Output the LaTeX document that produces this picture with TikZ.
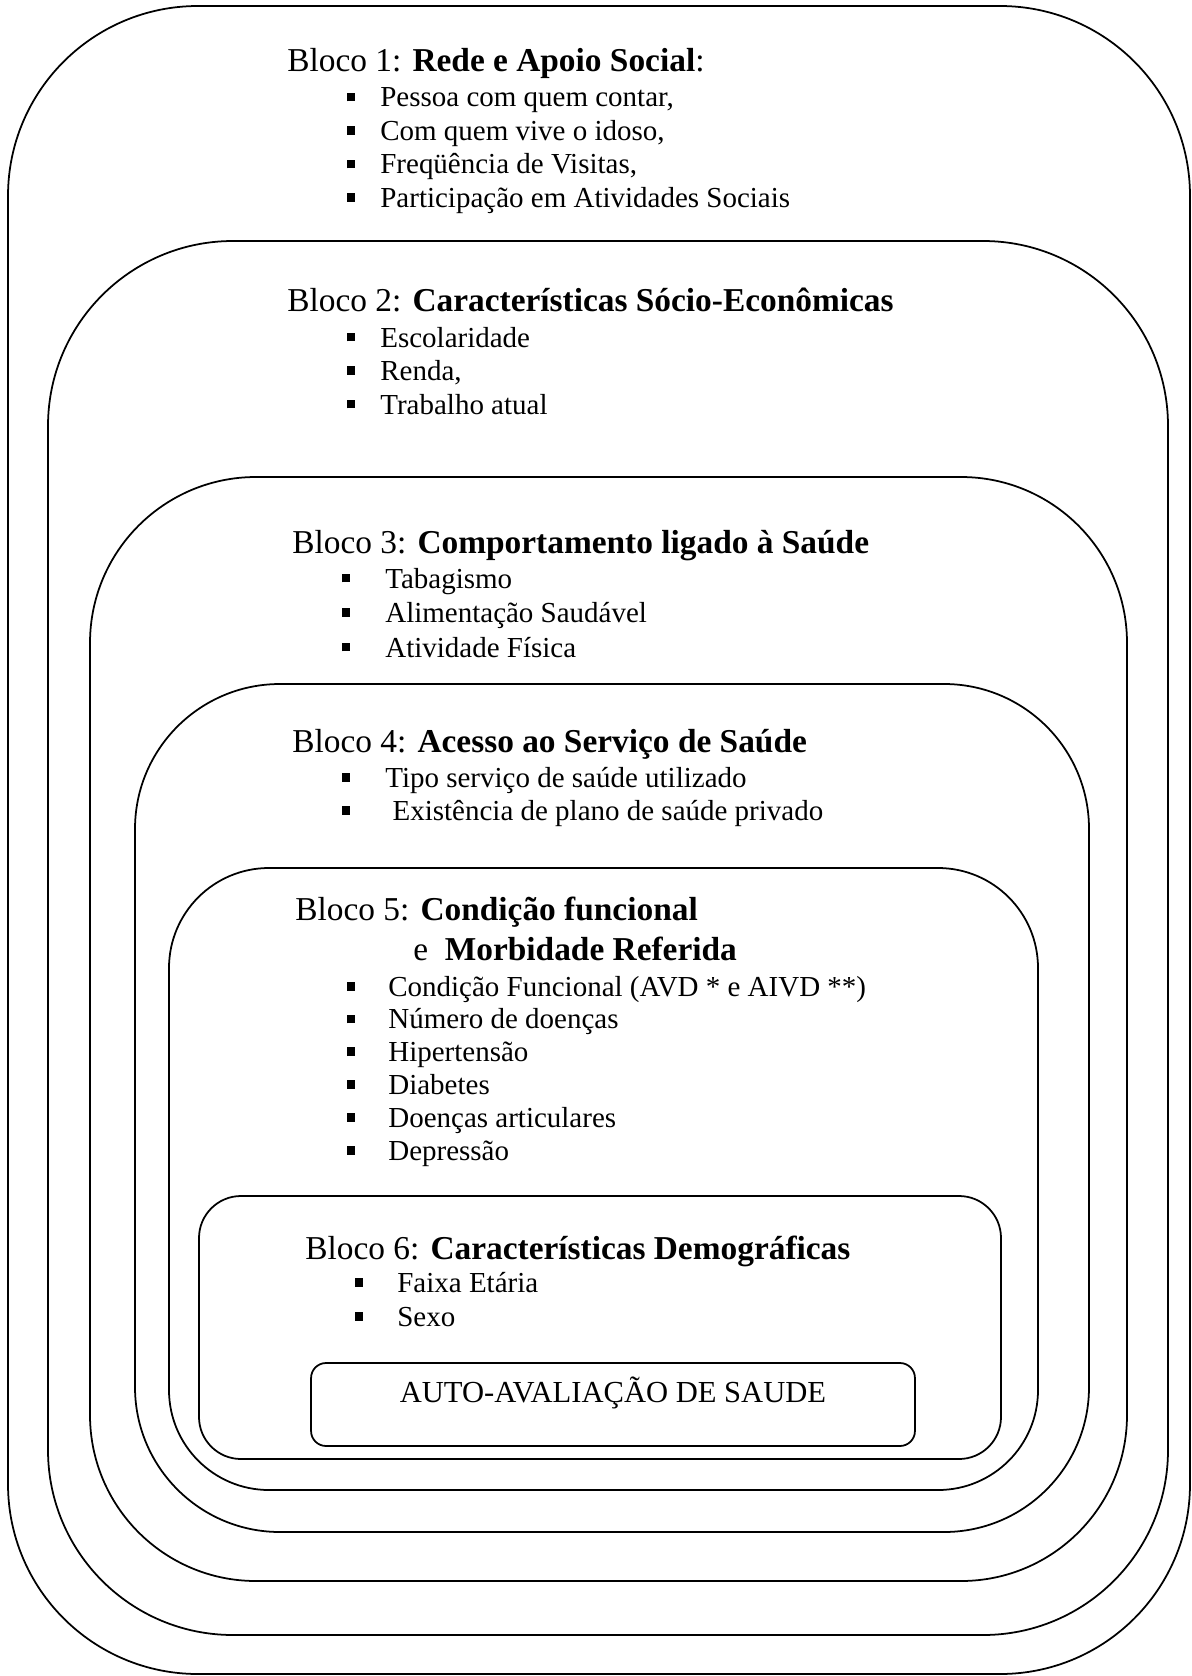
\documentclass[tikz,border=0pt]{standalone}
\usepackage{fontspec}
\setmainfont{Liberation Serif}
\newcommand\blt[1]{\llap{\rule[.19em]{.3em}{.3em}\hspace{#1}}}
\tikzset{
  bloco/frame/.style={draw, line width=1pt},
  bloco/title/.style={anchor=base west, inner sep=0pt, font=\fontsize{19}{23}\selectfont},
  bloco/item/.style={anchor=base west, inner sep=0pt, font=\fontsize{16.5}{20}\selectfont},
  bloco/result/.style={draw, line width=1pt, rounded corners=0.3cm, inner sep=0pt, anchor=base,
    font=\fontsize{17.4}{21}\selectfont}
}

\begin{document}
\begin{tikzpicture}[x=0.02cm, y=-0.02cm]
  \useasboundingbox (0,0) rectangle (1191,1676);

  % nested blocks, outermost first
  \draw[bloco/frame, rounded corners=3.8cm]  (8,6)     rectangle (1190,1674);
  \draw[bloco/frame, rounded corners=3.7cm]  (48,241)  rectangle (1168,1635);
  \draw[bloco/frame, rounded corners=3.32cm] (90,477)  rectangle (1127,1581);
  \draw[bloco/frame, rounded corners=2.9cm]  (135,684) rectangle (1089,1532);
  \draw[bloco/frame, rounded corners=2cm]    (169,868) rectangle (1038,1490);
  \draw[bloco/frame, rounded corners=0.84cm] (199,1196) rectangle (1001,1459);

  % Bloco 1
  \node[bloco/title] (t1) at (287,72) {Bloco 1: \textbf{Rede e Apoio Social}:};
  \foreach \txt [count=\i] in {{Pessoa com quem contar,}, {Com quem vive o idoso,},
      {Freqüência de Visitas,}, {Participação em Atividades Sociais}}
    \node[bloco/item] (b1-\i) at (380,{107+33.4*(\i-1)}) {\blt{0.5cm}\txt};

  % Bloco 2
  \node[bloco/title] (t2) at (287,311) {Bloco 2: \textbf{Características Sócio-Econômicas}};
  \foreach \txt [count=\i] in {Escolaridade, {Renda,}, Trabalho atual}
    \node[bloco/item] (b2-\i) at (380,{347+33.5*(\i-1)}) {\blt{0.5cm}\txt};

  % Bloco 3
  \node[bloco/title] (t3) at (292,553) {Bloco 3: \textbf{Comportamento ligado à Saúde}};
  \foreach \txt [count=\i] in {Tabagismo, Alimentação Saudável, Atividade Física}
    \node[bloco/item] (b3-\i) at (385,{588+34.5*(\i-1)}) {\blt{0.7cm}\txt};

  % Bloco 4
  \node[bloco/title] (t4) at (292,752) {Bloco 4: \textbf{Acesso ao Serviço de Saúde}};
  \node[bloco/item] (b4-1) at (385,787) {\blt{0.7cm}Tipo serviço de saúde utilizado};
  \node[bloco/item] (b4-2) at (385,820) {\blt{0.7cm}\ Existência de plano de saúde privado};

  % Bloco 5
  \node[bloco/title] (t5) at (295,920) {Bloco 5: \textbf{Condição funcional}};
  \node[bloco/title] (t5b) at (413,960) {e\hspace{9.5pt}\textbf{Morbidade Referida}};
  \foreach \txt [count=\i] in {Condição Funcional (AVD * e AIVD **), Número de doenças,
      Hipertensão, Diabetes, Doenças articulares, Depressão}
    \node[bloco/item] (b5-\i) at (388,{996+32.8*(\i-1)}) {\blt{0.66cm}\txt};

  % Bloco 6
  \node[bloco/title] (t6) at (305,1259) {Bloco 6: \textbf{Características Demográficas}};
  \foreach \txt [count=\i] in {Faixa Etária, Sexo}
    \node[bloco/item] (b6-\i) at (397,{1292+34*(\i-1)}) {\blt{0.68cm}\txt};

  % desfecho
  \node[bloco/result, text height=0.78cm, text depth=0.88cm, minimum width=12.08cm]
    (aas) at (613,1402) {AUTO-AVALIAÇÃO DE SAUDE};
\end{tikzpicture}
\end{document}
